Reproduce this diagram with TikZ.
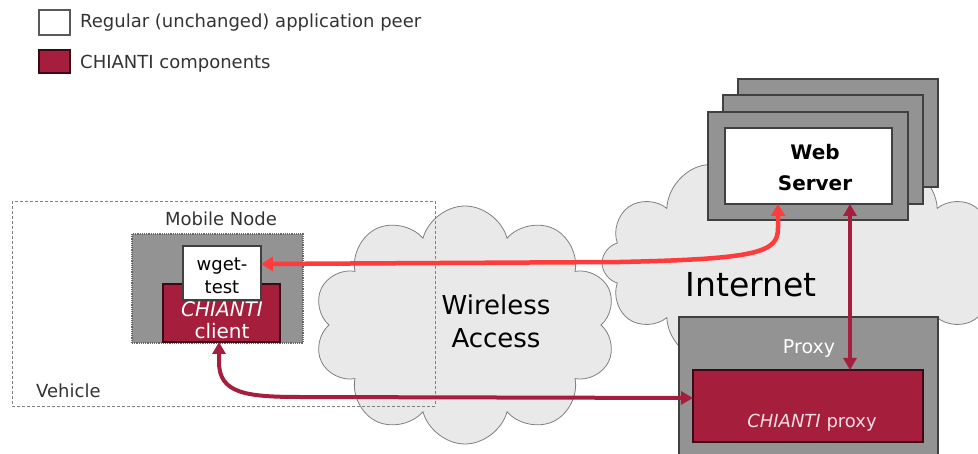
\documentclass[tikz,border=0pt]{standalone}
\usepackage{fontspec}
\setmainfont{DejaVu Sans}
\usetikzlibrary{shapes.symbols,arrows.meta}
\definecolor{chred}{HTML}{A51E3B}
\definecolor{brred}{HTML}{FF3B3B}
\definecolor{boxgray}{HTML}{939393}
\definecolor{cloudfill}{HTML}{E9E9E9}
\definecolor{txtgray}{HTML}{333333}
\begin{document}
\begin{tikzpicture}[x=1pt,y=-1pt,
  box/.style={draw=black!75, line width=1.2pt, inner sep=0pt, outer sep=0pt},
  graybox/.style={box, fill=boxgray},
  redbox/.style={box, fill=chred, draw=black!65!chred},
  whitebox/.style={box, fill=white},
  lbl/.style={inner sep=0pt, text=txtgray, font=\fontsize{18}{22}\selectfont},
  cloudshape/.style={cloud, draw=black!50, fill=cloudfill, line width=0.8pt, cloud ignores aspect, inner sep=0pt},
  redarrow/.style={draw=brred, line width=4.5pt, {Triangle[width=14pt,length=12pt]}-{Triangle[width=14pt,length=12pt]}},
  darrow/.style={draw=chred, line width=4pt, {Triangle[width=13pt,length=12pt]}-{Triangle[width=13pt,length=12pt]}}
]
\useasboundingbox (0,0) rectangle (978,454);
\clip (0,0) rectangle (978,454);

% legend
\node[box, draw=black!65, fill=white, minimum width=31pt, minimum height=25pt] (legw) at (54.5,22.5) {};
\node[redbox, minimum width=31pt, minimum height=23pt] (legr) at (54.5,61.5) {};
\node[lbl, anchor=west] (legwt) at (80,23) {Regular (unchanged) application peer};
\node[lbl, anchor=west] (legrt) at (80,64) {CHIANTI components};

% clouds
\node[cloudshape, cloud puffs=12, minimum width=400pt, minimum height=225pt] (inet) at (802,263) {};
\node[cloudshape, cloud puffs=10, minimum width=302pt, minimum height=238pt] (wcloud) at (465,325) {};

% vehicle
\draw[draw=black!50, line width=0.8pt, dash pattern=on 3pt off 2pt] (12,201) rectangle (435,406);
\node[lbl, anchor=west] (veh) at (36,391) {Vehicle};
\node[lbl] (mnl) at (221,219) {Mobile Node};

% mobile node
\node[graybox, draw=black!60, densely dotted, minimum width=171pt, minimum height=109pt] (mn) at (217.5,288.5) {};
\node[redbox, minimum width=117pt, minimum height=58pt] (client) at (221.5,313) {};
\node[whitebox, minimum width=78pt, minimum height=54pt] (wget) at (222,273) {};
\node[inner sep=0pt, align=center, font=\fontsize{18}{23}\selectfont] (wgett) at (222,276) {wget-\\test};
\node[inner sep=0pt, align=center, text=white, font=\fontsize{20}{22}\selectfont] (clientt) at (222,320) {\textit{CHIANTI}\\client};

% texts in clouds
\node[inner sep=0pt, align=center, font=\fontsize{26}{33}\selectfont] (wat) at (496,321) {Wireless\\Access};
\node[inner sep=0pt, font=\fontsize{33}{36}\selectfont] (inett) at (751,285) {Internet};

% web servers
\node[graybox, minimum width=200pt, minimum height=108pt] (ws3) at (838,133) {};
\node[graybox, minimum width=200pt, minimum height=109pt] (ws2) at (823,149.5) {};
\node[graybox, minimum width=200pt, minimum height=108pt] (ws1) at (808,166) {};
\node[whitebox, minimum width=167pt, minimum height=76pt] (webin) at (808.5,166) {};
\node[inner sep=0pt, align=center, font=\fontsize{20}{31}\bfseries] (webt) at (815,168) {Web\\Server};

% proxy
\node[graybox, minimum width=259pt, minimum height=153pt] (proxy) at (808.5,393.5) {};
\node[inner sep=0pt, text=white, font=\fontsize{19}{22}\selectfont] (proxyt) at (809,349) {Proxy};
\node[redbox, minimum width=230pt, minimum height=72pt] (prred) at (808,406) {};
\node[inner sep=0pt, text=white!85!chred, font=\fontsize{18}{22}\selectfont] (prredt) at (812,423) {\textit{CHIANTI} proxy};

% arrows
\draw[redarrow] (wget.east |- 0,264) -- (620,262) .. controls (760,259) and (778,252) .. (778,228) -- (webin.south -| 778,0);
\draw[darrow] (client.south -| 219,0) -- (219,362) .. controls (219,393) and (245,397) .. (300,397) -- (prred.west |- 0,398);
\draw[darrow] (webin.south -| 850,0) -- (prred.north -| 850,0);
\end{tikzpicture}
\end{document}
